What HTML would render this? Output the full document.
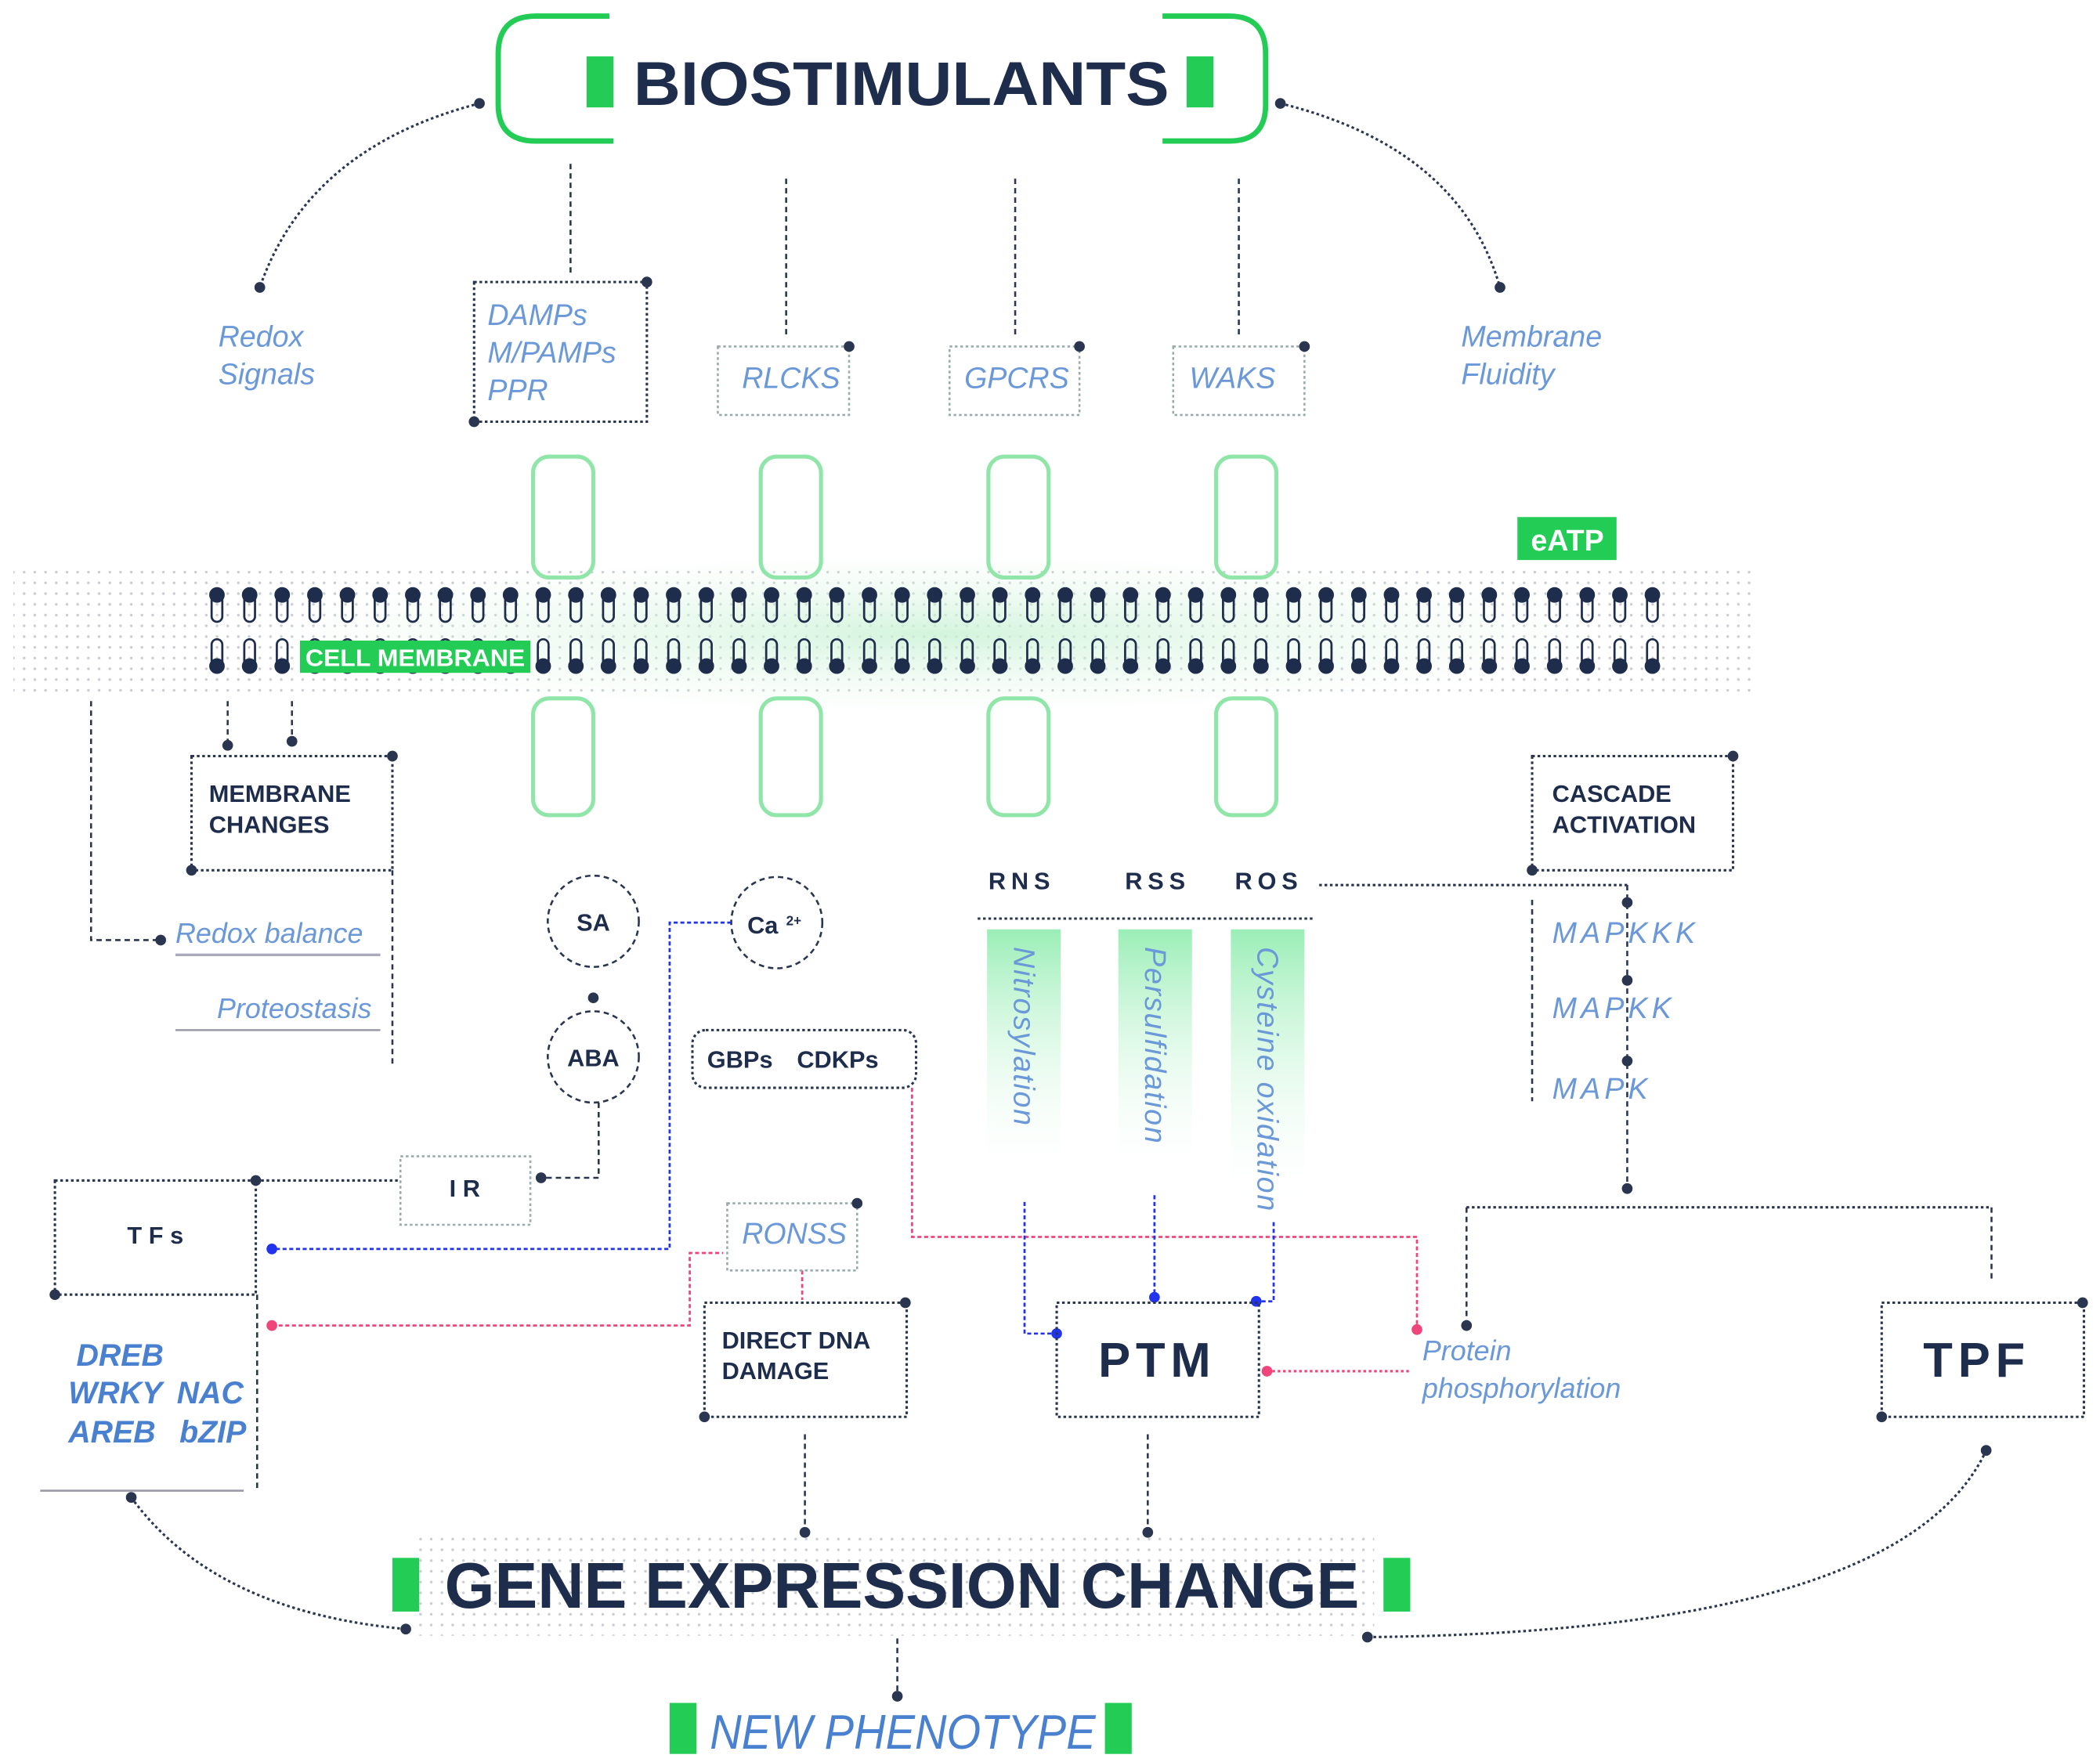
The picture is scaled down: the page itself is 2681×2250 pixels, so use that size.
<!DOCTYPE html>
<html><head><meta charset="utf-8"><style>
html,body{margin:0;padding:0;background:#fff}
svg{display:block}
text{font-family:"Liberation Sans",sans-serif}
.nv{fill:#1f2d4d;font-weight:bold}
.bl{fill:#6a98d8;font-style:italic}
.d{fill:none;stroke:#2a3550;stroke-width:1.5;stroke-dasharray:4 3}
.dt{fill:none;stroke:#2a3550;stroke-width:1.8;stroke-dasharray:2 2}
.g{fill:none;stroke:#9aa;stroke-width:1.5;stroke-dasharray:2 2}
.rc{fill:none;stroke:#8fe6a8;stroke-width:3}
</style></head><body>
<svg width="2681" height="2250" viewBox="0 0 1568 1312" preserveAspectRatio="none" xmlns="http://www.w3.org/2000/svg">
<defs>
<pattern id="dots" width="8" height="8" patternUnits="userSpaceOnUse"><circle cx="2" cy="2" r="1" fill="#c9ccd2"/></pattern>
<radialGradient id="glow" cx="0.5" cy="0.5" r="0.5"><stop offset="0" stop-color="#c8f2d4" stop-opacity="0.8"/><stop offset="1" stop-color="#e6f8ea" stop-opacity="0"/></radialGradient>
<linearGradient id="col" x1="0" y1="0" x2="0" y2="1"><stop offset="0" stop-color="#9aeeb6"/><stop offset="1" stop-color="#ffffff" stop-opacity="0"/></linearGradient>
<g id="L" fill="none" stroke="#1f2d4d" stroke-width="1.6">
<rect x="-4" y="442" width="8" height="21" rx="4"/><circle cx="0" cy="443" r="5" fill="#1f2d4d"/>
<rect x="-4" y="476" width="8" height="21" rx="4"/><circle cx="0" cy="496" r="5" fill="#1f2d4d"/>
</g>
</defs>
<!-- Title -->
<path d="M455 12 H400 Q372 12 372 40 V78 Q372 105 400 105 H458" fill="none" stroke="#22cc55" stroke-width="4"/>
<path d="M868 12 H918 Q945 12 945 40 V78 Q945 105 918 105 H868" fill="none" stroke="#22cc55" stroke-width="4"/>
<rect x="438" y="42" width="20" height="38" fill="#22cc55"/><rect x="886" y="42" width="20" height="38" fill="#22cc55"/>
<text x="473" y="78" class="nv" font-size="46" textLength="400" lengthAdjust="spacingAndGlyphs">BIOSTIMULANTS</text>
<path class="dt" d="M358 77 Q230 110 194 214"/><circle cx="358" cy="77" r="4" fill="#2a3550"/><circle cx="194" cy="214" r="4" fill="#2a3550"/>
<path class="dt" d="M956 77 Q1090 110 1120 214"/><circle cx="956" cy="77" r="4" fill="#2a3550"/><circle cx="1120" cy="214" r="4" fill="#2a3550"/>
<path class="d" d="M426 122 V205 M587 133 V252 M758 133 V252 M925 133 V252"/>
<text class="bl" font-size="22" x="163" y="258">Redox</text><text class="bl" font-size="22" x="163" y="286">Signals</text>
<text class="bl" font-size="22" x="1091" y="258">Membrane</text><text class="bl" font-size="22" x="1091" y="286">Fluidity</text>
<rect x="354" y="210" width="129" height="104" class="dt"/><circle cx="483" cy="210" r="4" fill="#2a3550"/><circle cx="354" cy="314" r="4" fill="#2a3550"/>
<text class="bl" font-size="22" x="364" y="242">DAMPs</text><text class="bl" font-size="22" x="364" y="270">M/PAMPs</text><text class="bl" font-size="22" x="364" y="298">PPR</text>
<rect x="536" y="258" width="98" height="51" class="g"/><circle cx="634" cy="258" r="4" fill="#2a3550"/><text class="bl" font-size="22" x="554" y="289">RLCKS</text>
<rect x="709" y="258" width="97" height="51" class="g"/><circle cx="806" cy="258" r="4" fill="#2a3550"/><text class="bl" font-size="22" x="720" y="289">GPCRS</text>
<rect x="876" y="258" width="98" height="51" class="g"/><circle cx="974" cy="258" r="4" fill="#2a3550"/><text class="bl" font-size="22" x="888" y="289">WAKS</text>
<!-- membrane -->
<rect x="10" y="425" width="1300" height="95" fill="url(#dots)"/>
<ellipse cx="700" cy="472" rx="520" ry="60" fill="url(#glow)"/>
<g class="rc">
<rect x="398" y="340" width="45" height="90" rx="12"/><rect x="568" y="340" width="45" height="90" rx="12"/><rect x="738" y="340" width="45" height="90" rx="12"/><rect x="908" y="340" width="45" height="90" rx="12"/>
<rect x="398" y="520" width="45" height="87" rx="12"/><rect x="568" y="520" width="45" height="87" rx="12"/><rect x="738" y="520" width="45" height="87" rx="12"/><rect x="908" y="520" width="45" height="87" rx="12"/>
</g>
<use href="#L" x="162"/><use href="#L" x="186.4"/><use href="#L" x="210.7"/><use href="#L" x="235.1"/><use href="#L" x="259.4"/><use href="#L" x="283.8"/><use href="#L" x="308.2"/><use href="#L" x="332.5"/><use href="#L" x="356.9"/><use href="#L" x="381.2"/><use href="#L" x="405.6"/><use href="#L" x="430"/><use href="#L" x="454.3"/><use href="#L" x="478.7"/><use href="#L" x="503"/><use href="#L" x="527.4"/><use href="#L" x="551.8"/><use href="#L" x="576.1"/><use href="#L" x="600.5"/><use href="#L" x="624.8"/><use href="#L" x="649.2"/><use href="#L" x="673.6"/><use href="#L" x="697.9"/><use href="#L" x="722.3"/><use href="#L" x="746.6"/><use href="#L" x="771"/><use href="#L" x="795.4"/><use href="#L" x="819.7"/><use href="#L" x="844.1"/><use href="#L" x="868.4"/><use href="#L" x="892.8"/><use href="#L" x="917.2"/><use href="#L" x="941.5"/><use href="#L" x="965.9"/><use href="#L" x="990.2"/><use href="#L" x="1014.6"/><use href="#L" x="1039"/><use href="#L" x="1063.3"/><use href="#L" x="1087.7"/><use href="#L" x="1112"/><use href="#L" x="1136.4"/><use href="#L" x="1160.8"/><use href="#L" x="1185.1"/><use href="#L" x="1209.5"/><use href="#L" x="1233.8"/>
<rect x="224" y="477" width="172" height="24" fill="#22cc55"/><text x="228" y="496" font-size="18" font-weight="bold" fill="#fff" textLength="164" lengthAdjust="spacingAndGlyphs">CELL MEMBRANE</text>
<rect x="1133" y="385" width="74" height="32" fill="#22cc55"/><text x="1143" y="410" font-size="22" font-weight="bold" fill="#fff">eATP</text>
<!-- left -->
<path class="d" d="M68 522 V700 H118 M170 522 V555 M218 522 V552 M293 648 V795"/>
<circle cx="120" cy="700" r="4" fill="#2a3550"/><circle cx="170" cy="555" r="4" fill="#2a3550"/><circle cx="218" cy="552" r="4" fill="#2a3550"/>
<rect x="143" y="563" width="150" height="85" class="dt"/><circle cx="293" cy="563" r="4" fill="#2a3550"/><circle cx="143" cy="648" r="4" fill="#2a3550"/>
<text class="nv" font-size="18" x="156" y="597">MEMBRANE</text><text class="nv" font-size="18" x="156" y="620">CHANGES</text>
<text class="bl" font-size="21" x="131" y="702">Redox balance</text><line x1="131" y1="711" x2="284" y2="711" stroke="#aab" stroke-width="2"/>
<text class="bl" font-size="21" x="162" y="758">Proteostasis</text><line x1="131" y1="767" x2="284" y2="767" stroke="#99a" stroke-width="1.5"/>
<circle cx="443" cy="686" r="34" class="d"/><text class="nv" font-size="18" x="443" y="693" text-anchor="middle">SA</text>
<circle cx="443" cy="743" r="4" fill="#2a3550"/>
<circle cx="443" cy="787" r="34" class="d"/><text class="nv" font-size="18" x="443" y="794" text-anchor="middle">ABA</text>
<path class="d" d="M447 821 V877 H404"/><circle cx="404" cy="877" r="4" fill="#2a3550"/>
<rect x="299" y="861" width="97" height="51" class="g"/><text class="nv" font-size="18" x="347" y="891" text-anchor="middle">I R</text>
<circle cx="580" cy="687" r="34" class="d"/><text class="nv" font-size="18" x="558" y="695">Ca</text><text class="nv" font-size="10" x="587" y="689">2+</text>
<path d="M546 687 H500 V930 H203" fill="none" stroke="#2233ee" stroke-width="1.6" stroke-dasharray="3 2"/><circle cx="203" cy="930" r="4" fill="#2233ee"/>
<rect x="41" y="879" width="150" height="85" class="dt"/><circle cx="191" cy="879" r="4" fill="#2a3550"/><circle cx="41" cy="964" r="4" fill="#2a3550"/>
<path class="dt" d="M191 879 H299"/><path class="d" d="M192 964 V1110"/>
<text class="nv" font-size="18" x="95" y="926">T F s</text>
<g font-size="23" font-weight="bold" font-style="italic" fill="#4a80d0">
<text x="57" y="1017">DREB</text><text x="51" y="1045">WRKY</text><text x="132" y="1045">NAC</text><text x="51" y="1074">AREB</text><text x="134" y="1074">bZIP</text></g>
<line x1="30" y1="1110" x2="182" y2="1110" stroke="#99a" stroke-width="1.5"/>
<path d="M203 987 H515 V933 H540 M599 946 V968" fill="none" stroke="#f0457a" stroke-width="1.6" stroke-dasharray="3 2"/><circle cx="203" cy="987" r="4" fill="#f0457a"/>
<rect x="543" y="896" width="97" height="50" class="g"/><circle cx="640" cy="896" r="4" fill="#2a3550"/><text class="bl" font-size="22" x="554" y="926">RONSS</text>
<rect x="526" y="970" width="151" height="85" class="dt"/><circle cx="676" cy="970" r="4" fill="#2a3550"/><circle cx="526" cy="1055" r="4" fill="#2a3550"/>
<text class="nv" font-size="18" x="539" y="1004">DIRECT DNA</text><text class="nv" font-size="18" x="539" y="1027">DAMAGE</text>
<path class="d" d="M601 1068 V1140"/><circle cx="601" cy="1141" r="4" fill="#2a3550"/>
<rect x="517" y="767" width="167" height="43" rx="10" class="dt"/><text class="nv" font-size="18" x="528" y="795">GBPs</text><text class="nv" font-size="18" x="595" y="795">CDKPs</text>
<path d="M681 810 V921 H1058 V988" fill="none" stroke="#f0457a" stroke-width="1.6" stroke-dasharray="3 2"/><circle cx="1058" cy="990" r="4" fill="#f0457a"/>
<!-- ROS -->
<g class="nv" font-size="18" letter-spacing="4"><text x="738" y="662">RNS</text><text x="840" y="662">RSS</text><text x="922" y="662">ROS</text></g>
<path class="dt" d="M730 684 H980 M985 659 H1215"/>
<rect x="737" y="692" width="55" height="190" fill="url(#col)"/><rect x="835" y="692" width="55" height="190" fill="url(#col)"/><rect x="919" y="692" width="55" height="210" fill="url(#col)"/>
<g class="bl" font-size="22" letter-spacing="1">
<text transform="translate(757,705) rotate(90)">Nitrosylation</text>
<text transform="translate(855,705) rotate(90)">Persulfidation</text>
<text transform="translate(939,705) rotate(90)">Cysteine oxidation</text></g>
<path d="M765 895 V993 H789 M862 890 V966 M951 910 V969 H938" fill="none" stroke="#2233ee" stroke-width="1.6" stroke-dasharray="3 2"/>
<circle cx="789" cy="993" r="4" fill="#2233ee"/><circle cx="862" cy="966" r="4" fill="#2233ee"/><circle cx="938" cy="969" r="4" fill="#2233ee"/>
<rect x="789" y="970" width="151" height="85" class="dt"/><text class="nv" font-size="36" x="864" y="1025" text-anchor="middle" letter-spacing="4">PTM</text>
<path d="M946 1021 H1053" fill="none" stroke="#f0457a" stroke-width="1.8" stroke-dasharray="2 2"/><circle cx="946" cy="1021" r="4" fill="#f0457a"/>
<text class="bl" font-size="21" x="1062" y="1013">Protein</text><text class="bl" font-size="21" x="1062" y="1041">phosphorylation</text>
<path class="d" d="M857 1068 V1140"/><circle cx="857" cy="1141" r="4" fill="#2a3550"/>
<!-- right -->
<rect x="1144" y="563" width="150" height="85" class="dt"/><circle cx="1294" cy="563" r="4" fill="#2a3550"/><circle cx="1144" cy="648" r="4" fill="#2a3550"/>
<text class="nv" font-size="18" x="1159" y="597">CASCADE</text><text class="nv" font-size="18" x="1159" y="620">ACTIVATION</text>
<path class="d" d="M1215 659 V885 M1144 670 V820"/>
<circle cx="1215" cy="672" r="4" fill="#2a3550"/><circle cx="1215" cy="730" r="4" fill="#2a3550"/><circle cx="1215" cy="790" r="4" fill="#2a3550"/><circle cx="1215" cy="885" r="4" fill="#2a3550"/>
<g class="bl" font-size="22" letter-spacing="3"><text x="1159" y="702">MAPKKK</text><text x="1159" y="758">MAPKK</text><text x="1159" y="818">MAPK</text></g>
<path class="dt" d="M1095 899 H1487"/><path class="d" d="M1095 899 V985 M1487 899 V955"/><circle cx="1095" cy="987" r="4" fill="#2a3550"/>
<rect x="1405" y="970" width="151" height="85" class="dt"/><circle cx="1555" cy="970" r="4" fill="#2a3550"/><circle cx="1405" cy="1055" r="4" fill="#2a3550"/>
<text class="nv" font-size="36" x="1476" y="1025" text-anchor="middle" letter-spacing="4">TPF</text>
<!-- gene expression -->
<rect x="312" y="1140" width="714" height="78" fill="url(#dots)"/>
<rect x="293" y="1160" width="20" height="40" fill="#22cc55"/><rect x="1033" y="1160" width="20" height="40" fill="#22cc55"/>
<text class="nv" font-size="48" x="332" y="1197" textLength="683" lengthAdjust="spacingAndGlyphs">GENE EXPRESSION CHANGE</text>
<path class="dt" d="M98 1115 Q160 1200 303 1213"/><circle cx="98" cy="1115" r="4" fill="#2a3550"/><circle cx="303" cy="1213" r="4" fill="#2a3550"/>
<path class="dt" d="M1483 1080 Q1420 1215 1021 1219"/><circle cx="1483" cy="1080" r="4" fill="#2a3550"/><circle cx="1021" cy="1219" r="4" fill="#2a3550"/>
<path class="d" d="M670 1220 V1262"/><circle cx="670" cy="1263" r="4" fill="#2a3550"/>
<rect x="500" y="1268" width="20" height="38" fill="#22cc55"/><rect x="825" y="1268" width="20" height="38" fill="#22cc55"/>
<text x="530" y="1302" font-size="36" font-style="italic" fill="#4a80d0" textLength="288" lengthAdjust="spacingAndGlyphs">NEW PHENOTYPE</text>
</svg>
</body></html>
